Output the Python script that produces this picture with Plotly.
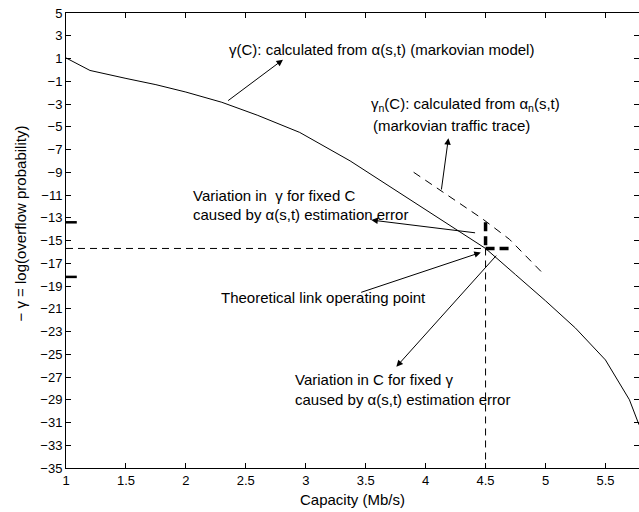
import plotly.graph_objects as go

# gamma(C) from the markovian model alpha(s,t)
cap_model = [1.0, 1.2, 1.5, 1.75, 2.0, 2.3, 2.6, 2.95, 3.37, 3.78, 4.2, 4.5,
             4.75, 5.0, 5.25, 5.5, 5.7, 5.78]
gamma_model = [1.05, -0.05, -0.75, -1.3, -1.95, -2.85, -4.0, -5.5, -8.0, -10.8,
               -13.7, -15.7, -18.0, -20.3, -22.7, -25.5, -29.0, -31.2]

# gamma_n(C) from the markovian traffic trace alpha_n(s,t)
cap_trace = [3.9, 4.13, 4.475, 4.7, 4.97]
gamma_trace = [-9.0, -10.65, -13.1, -14.9, -17.8]

# theoretical link operating point and estimation-error ranges
op_cap = 4.5
op_gamma = -15.7
gamma_err = [-13.4, -18.2]
cap_err = [4.5, 4.7]

x_range = [1, 5.78]
y_range = [-35, 5]
x_ticks = [1, 1.5, 2, 2.5, 3, 3.5, 4, 4.5, 5, 5.5]
y_ticks = list(range(-35, 6, 2))

FONT = "Liberation Sans, Arial, Helvetica, sans-serif"
ANN_SIZE = 15

fig = go.Figure()

fig.add_trace(go.Scatter(x=cap_model, y=gamma_model, mode="lines",
                         line=dict(color="black", width=1), showlegend=False))
fig.add_trace(go.Scatter(x=cap_trace, y=gamma_trace, mode="lines",
                         line=dict(color="black", width=1, dash="8px,6px"),
                         showlegend=False))

# thin dashed guide lines through the operating point
fig.add_trace(go.Scatter(x=[x_range[0], op_cap], y=[op_gamma, op_gamma], mode="lines",
                         line=dict(color="black", width=1, dash="7px,5px"),
                         showlegend=False))
fig.add_trace(go.Scatter(x=[op_cap, op_cap], y=[op_gamma, y_range[0]], mode="lines",
                         line=dict(color="black", width=1, dash="7px,5px"),
                         showlegend=False))

# thick dashed error ranges
fig.add_trace(go.Scatter(x=[op_cap, op_cap], y=[gamma_err[0], op_gamma], mode="lines",
                         line=dict(color="black", width=3.5, dash="9px,5px"),
                         showlegend=False))
fig.add_trace(go.Scatter(x=cap_err, y=[op_gamma, op_gamma], mode="lines",
                         line=dict(color="black", width=3.5, dash="9px,5px"),
                         showlegend=False))

# short marks on the left axis at the ends of the gamma error range
for g in gamma_err:
    fig.add_trace(go.Scatter(x=[x_range[0], x_range[0] + 0.09], y=[g, g], mode="lines",
                             line=dict(color="black", width=2.5), showlegend=False))

# yaxis2 only carries the right-hand tick marks
fig.add_trace(go.Scatter(x=[None], y=[None], yaxis="y2", showlegend=False))

annotations = []

def label(x, y, text):
    annotations.append(dict(x=x, y=y, xref="x", yref="y", text=text, showarrow=False,
                            xanchor="left", yanchor="middle",
                            font=dict(family=FONT, size=ANN_SIZE, color="black")))

def arrow(x0, y0, x1, y1):
    annotations.append(dict(x=x1, y=y1, ax=x0, ay=y0, xref="x", yref="y",
                            axref="x", ayref="y", text="", showarrow=True,
                            arrowhead=2, arrowsize=1.3, arrowwidth=1,
                            arrowcolor="black", standoff=0, startstandoff=0))

label(2.34, 1.75, "γ(C): calculated from α(s,t) (markovian model)")
label(3.53, -3.0, "γ<sub>n</sub>(C): calculated from α<sub>n</sub>(s,t)")
label(3.545, -4.93, "(markovian traffic trace)")
label(2.045, -11.0, "Variation in  γ for fixed C")
label(2.045, -12.71, "caused by α(s,t) estimation error")
label(2.28, -20.05, "Theoretical link operating point")
label(2.89, -27.26, "Variation in C for fixed γ")
label(2.89, -29.02, "caused by α(s,t) estimation error")

arrow(2.34, -2.8, 2.81, 0.9)
arrow(4.13, -10.65, 4.19, -6.0)
arrow(4.425, -14.34, 3.547, -13.2)
arrow(3.45, -19.6, 4.46, -16.05)
arrow(4.6, -16.2, 3.756, -26.1)

annotations.append(dict(x=0.5, y=-0.0703, xref="paper", yref="paper",
                        text="Capacity (Mb/s)", showarrow=False,
                        xanchor="center", yanchor="middle",
                        font=dict(family=FONT, size=15, color="black")))
annotations.append(dict(x=-0.0797, y=0.538, xref="paper", yref="paper",
                        text="− γ = log(overflow probability)", showarrow=False,
                        textangle=-90, xanchor="center", yanchor="middle",
                        font=dict(family=FONT, size=15, color="black")))

axis_common = dict(showgrid=False, zeroline=False, ticks="inside", ticklen=5,
                   tickwidth=1, tickcolor="black", linecolor="black", linewidth=1,
                   tickfont=dict(family=FONT, size=13, color="black"))

fig.update_layout(
    width=639, height=512,
    margin=dict(l=66, r=0, t=13, b=44),
    paper_bgcolor="white", plot_bgcolor="white",
    showlegend=False,
    xaxis=dict(range=x_range, tickvals=x_ticks, showline=True, mirror="ticks",
               **axis_common),
    yaxis=dict(range=y_range, tickvals=y_ticks, showline=True, mirror=False,
               **axis_common),
    yaxis2=dict(range=y_range, tickvals=y_ticks, overlaying="y", side="right",
                showline=False, showticklabels=False, showgrid=False, zeroline=False,
                ticks="inside", ticklen=5, tickwidth=1, tickcolor="black"),
    annotations=annotations,
)

fig.write_html("out.html")
